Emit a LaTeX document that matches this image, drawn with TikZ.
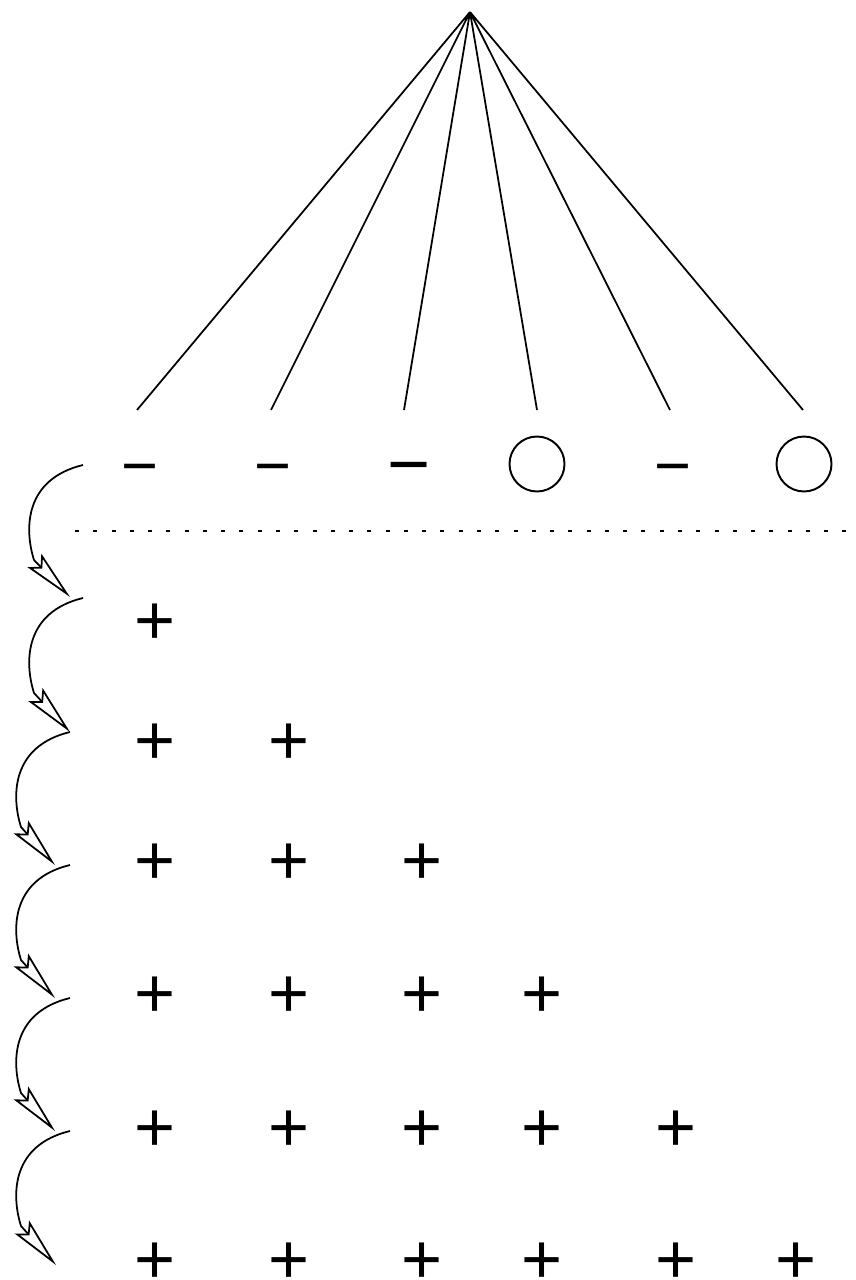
\documentclass[tikz,border=0pt]{standalone}
\usepackage{fontspec}
\setmainfont{Liberation Sans}
\usetikzlibrary{arrows.meta}

\begin{document}
\begin{tikzpicture}[
    x=0.02cm, y=-0.02cm,
    fan/.style={line width=1pt},
    sign/.style={anchor=base, inner sep=0pt},
    plus/.style={sign, yshift=-13.1pt, font=\fontsize{40}{40}\selectfont},
    minus/.style={sign, yshift=-13.3pt, font=\fontsize{36}{36}\selectfont},
    zero/.style={draw, circle, line width=1.1pt, minimum size=1.1cm, inner sep=0pt},
    hop/.style={-{Stealth[open, length=29pt, width=11pt, inset=5pt]}, line width=1pt},
    sep/.style={line width=1.1pt, dash pattern=on 2.3pt off 8.1pt},
  ]
  \useasboundingbox (0,0) rectangle (855,1280);

  % Fan from the root
  \coordinate (root) at (470,12);
  \coordinate (e1) at (137,410);
  \coordinate (e2) at (271,410);
  \coordinate (e3) at (404,410);
  \coordinate (e4) at (537,410);
  \coordinate (e5) at (670,410);
  \coordinate (e6) at (803,410);
  \draw[fan] (root) -- (e1) (root) -- (e2) (root) -- (e3)
             (root) -- (e4) (root) -- (e5) (root) -- (e6);

  % Top row
  \node[minus] (m1) at (140,464) {−};
  \node[minus] (m2) at (273,464) {−};
  \node[sign, yshift=-15.5pt, font=\fontsize{42}{42}\selectfont] (m3) at (409,462) {−};
  \node[zero] (z4) at (537,464) {};
  \node[minus] (m5) at (673,464) {−};
  \node[zero] (z6) at (804,464) {};

  % Separator
  \coordinate (d0) at (75,531);
  \coordinate (d1) at (855,531);
  \draw[sep] (d0) -- (d1);

  % Rows of plus signs
  \node[plus] (p11) at (155,621) {+};
  \node[plus] (p21) at (155,741) {+};
  \node[plus] (p22) at (289,741) {+};
  \node[plus] (p31) at (155,861) {+};
  \node[plus] (p32) at (289,861) {+};
  \node[plus] (p33) at (422,861) {+};
  \node[plus] (p41) at (155,994) {+};
  \node[plus] (p42) at (289,994) {+};
  \node[plus] (p43) at (422,994) {+};
  \node[plus] (p44) at (542,994) {+};
  \node[plus] (p51) at (155,1128) {+};
  \node[plus] (p52) at (289,1128) {+};
  \node[plus] (p53) at (422,1128) {+};
  \node[plus] (p54) at (542,1128) {+};
  \node[plus] (p55) at (676,1128) {+};
  \node[plus] (p61) at (155,1260) {+};
  \node[plus] (p62) at (289,1260) {+};
  \node[plus] (p63) at (422,1260) {+};
  \node[plus] (p64) at (542,1260) {+};
  \node[plus] (p65) at (676,1260) {+};
  \node[plus] (p66) at (796,1260) {+};

  % Hops down the left side
  \coordinate (s1) at (83,465);  \coordinate (t1) at (70,597);
  \coordinate (s2) at (83,598);  \coordinate (t2) at (70,732);
  \coordinate (s3) at (70,732);  \coordinate (t3) at (55,865);
  \coordinate (s4) at (70,865);  \coordinate (t4) at (55,998);
  \coordinate (s5) at (70,998);  \coordinate (t5) at (55,1131);
  \coordinate (s6) at (70,1131); \coordinate (t6) at (56,1265);
  \draw[hop] (s1) .. controls +(-58,14) and +(-10,-32) .. ++(-49,95) -- (t1);
  \draw[hop] (s2) .. controls +(-58,14) and +(-10,-32) .. ++(-49,95) -- (t2);
  \draw[hop] (s3) .. controls +(-58,14) and +(-10,-32) .. ++(-49,95) -- (t3);
  \draw[hop] (s4) .. controls +(-58,14) and +(-10,-32) .. ++(-49,95) -- (t4);
  \draw[hop] (s5) .. controls +(-58,14) and +(-10,-32) .. ++(-49,95) -- (t5);
  \draw[hop] (s6) .. controls +(-58,14) and +(-10,-32) .. ++(-49,95) -- (t6);
\end{tikzpicture}
\end{document}
